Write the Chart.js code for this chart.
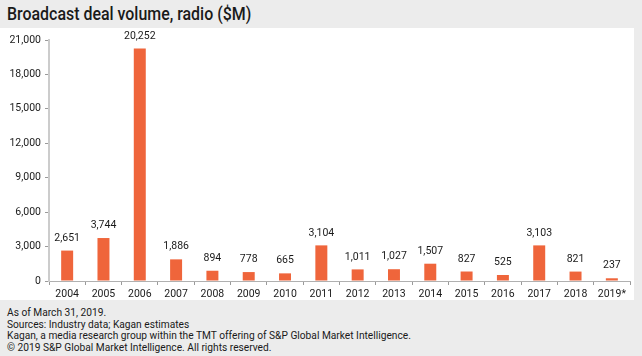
<!DOCTYPE html>
<html>
<head>
<meta charset="utf-8">
<script src="https://cdn.jsdelivr.net/npm/chart.js@4"></script>
<style>
  html,body{margin:0;padding:0;}
  body{width:642px;height:356px;background:#ececec;position:relative;overflow:hidden;font-family:"Roboto",sans-serif;color:#1a1a1a;}
  #title{position:absolute;left:7px;top:2px;font-size:17.5px;font-weight:500;line-height:24px;white-space:nowrap;transform:scaleX(0.91);transform-origin:0 50%;}
  #plot{position:absolute;left:0;top:28px;width:634px;height:272px;background:#ffffff;}
  #footer{position:absolute;left:7px;top:307px;font-size:10.2px;line-height:11.5px;white-space:nowrap;}
</style>
</head>
<body>
<div id="title">Broadcast deal volume, radio ($M)</div>
<div id="plot"><canvas id="c" width="634" height="272"></canvas></div>
<div id="footer">As of March 31, 2019.<br>Sources: Industry data; Kagan estimates<br>Kagan, a media research group within the TMT offering of S&amp;P Global Market Intelligence.<br>© 2019 S&amp;P Global Market Intelligence. All rights reserved.</div>
<script>
const years = ["2004","2005","2006","2007","2008","2009","2010","2011","2012","2013","2014","2015","2016","2017","2018","2019*"];
const dealVolume = [2651,3744,20252,1886,894,778,665,3104,1011,1027,1507,827,525,3103,821,237];
const valueLabels = ["2,651","3,744","20,252","1,886","894","778","665","3,104","1,011","1,027","1,507","827","525","3,103","821","237"];
const yMax = 21000;
const yStep = 3000;

const FONT = "Roboto, sans-serif";

const valueLabelPlugin = {
  id: 'valueLabels',
  afterDatasetsDraw(chart) {
    const ctx = chart.ctx;
    const meta = chart.getDatasetMeta(0);
    ctx.save();
    ctx.font = "10.5px " + FONT;
    ctx.fillStyle = "#1a1a1a";
    ctx.textAlign = "center";
    ctx.textBaseline = "middle";
    meta.data.forEach((bar, i) => {
      ctx.fillText(valueLabels[i], bar.x, bar.y - 12.5);
    });
    ctx.restore();
  }
};

new Chart(document.getElementById('c'), {
  type: 'bar',
  data: {
    labels: years,
    datasets: [{
      data: dealVolume,
      backgroundColor: '#ef653b',
      borderWidth: 0,
      barPercentage: 0.33,
      categoryPercentage: 1.0
    }]
  },
  options: {
    responsive: false,
    animation: false,
    events: [],
    layout: { padding: { top: 12, right: 4, left: 0, bottom: 0 } },
    plugins: { legend: { display: false }, tooltip: { enabled: false }, title: { display: false } },
    scales: {
      x: {
        grid: { display: true, drawOnChartArea: false, drawTicks: true, tickLength: 4, color: '#9a9a9a', offset: true },
        border: { display: true, color: '#b0b0b0', width: 1 },
        ticks: { color: '#1a1a1a', font: { family: FONT, size: 10.5 }, padding: 3, maxRotation: 0, autoSkip: false },
        afterFit(scale) { scale.height = 19; }
      },
      y: {
        min: 0, max: yMax,
        ticks: { stepSize: yStep, color: '#1a1a1a', font: { family: FONT, size: 10.5 }, padding: 4,
          callback: v => v.toLocaleString('en-US') },
        grid: { display: true, drawOnChartArea: false, drawTicks: true, tickLength: 4, color: '#9a9a9a' },
        border: { display: true, color: '#cccccc', width: 2 },
        afterFit(scale) { scale.width = 49; }
      }
    }
  },
  plugins: [valueLabelPlugin]
});
</script>
</body>
</html>
